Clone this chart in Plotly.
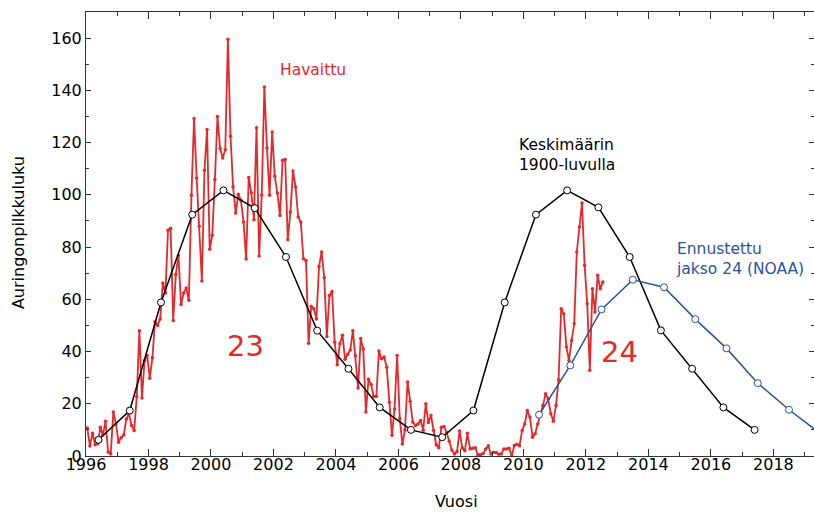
import plotly.graph_objects as go

obs_start_year = 1996
observed = [
    # 1996
    10.7, 3.8, 8.7, 4.3, 4.7, 11.0, 8.0, 13.3, 1.5, 0.8, 16.8, 12.3,
    # 1997
    5.3, 7.0, 8.0, 14.2, 16.2, 11.7, 9.8, 22.8, 48.0, 22.2, 36.6, 38.5,
    # 1998
    29.8, 37.6, 51.5, 50.0, 52.5, 66.2, 62.4, 86.4, 87.2, 51.9, 69.5, 76.8,
    # 1999
    58.0, 62.4, 64.3, 59.6, 99.8, 129.2, 106.4, 88.0, 67.0, 109.4, 125.0, 79.2,
    # 2000
    84.5, 105.9, 130.0, 117.7, 114.1, 117.3, 159.6, 122.4, 103.0, 93.0, 100.2, 97.9,
    # 2001
    89.6, 75.4, 106.6, 100.8, 90.5, 125.7, 76.6, 99.9, 141.3, 117.9, 99.8, 124.1,
    # 2002
    107.1, 100.7, 92.1, 113.2, 113.5, 82.8, 93.4, 109.1, 103.0, 91.5, 89.6, 75.5,
    # 2003
    74.9, 43.2, 57.3, 56.4, 52.5, 72.6, 78.1, 68.3, 45.8, 61.5, 63.0, 43.6,
    # 2004
    34.9, 43.0, 46.2, 37.0, 39.0, 40.6, 48.0, 38.4, 26.0, 45.0, 41.0, 16.8,
    # 2005
    29.4, 27.4, 22.8, 22.8, 40.2, 37.2, 37.9, 34.0, 20.6, 7.9, 18.0, 38.5,
    # 2006
    14.4, 4.6, 10.0, 28.3, 21.0, 13.0, 11.7, 12.3, 13.6, 9.9, 20.0, 12.8,
    # 2007
    15.5, 9.8, 4.3, 3.2, 11.0, 11.3, 9.0, 5.6, 2.3, 0.8, 1.6, 9.6,
    # 2008
    3.1, 2.0, 8.7, 2.7, 3.0, 3.2, 0.5, 0.5, 1.0, 2.7, 3.9, 0.8,
    # 2009
    1.4, 1.3, 0.7, 0.8, 2.7, 2.7, 3.0, 0.0, 4.0, 4.5, 3.9, 9.8,
    # 2010
    12.3, 17.4, 14.9, 7.2, 8.5, 12.3, 15.5, 19.3, 23.8, 21.9, 16.2, 13.3,
    # 2011
    19.3, 29.2, 56.4, 54.5, 41.7, 36.6, 44.2, 50.6, 78.1, 87.7, 96.9, 73.0,
    # 2012
    58.3, 32.8, 64.0, 55.1, 69.2, 64.0, 66.6,
]
obs_years = [obs_start_year + (i + 0.5) / 12 for i in range(len(observed))]

# Average 20th-century cycle (black)
avg_years = [1996.4, 1997.4, 1998.4, 1999.4, 2000.4, 2001.4, 2002.4, 2003.4,
             2004.4, 2005.4, 2006.4, 2007.4, 2008.4, 2009.4, 2010.4, 2011.4,
             2012.4, 2013.4, 2014.4, 2015.4, 2016.4, 2017.4]
avg_values = [6.2, 17.4, 58.8, 92.4, 101.7, 94.9, 76.2, 48.0, 33.4, 18.6, 10.0,
              7.2, 17.4, 58.8, 92.4, 101.7, 95.2, 76.2, 48.1, 33.4, 18.6, 10.0]

# NOAA predicted cycle 24 (blue)
pred_years = [2010.5, 2011.5, 2012.5, 2013.5, 2014.5, 2015.5, 2016.5, 2017.5,
              2018.5, 2019.5]
pred_values = [15.8, 34.7, 56.1, 67.5, 64.6, 52.4, 41.2, 27.9, 17.7, 8.6]

x_ticks = list(range(1996, 2020, 2))
y_ticks = list(range(0, 161, 20))

RED = "#e5282a"
BLUE = "#2d52a0"
FONT = "DejaVu Sans"

fig = go.Figure()

fig.add_trace(go.Scatter(
    x=obs_years, y=observed, mode="lines+markers",
    line=dict(color=RED, width=1.8),
    marker=dict(size=3.5, color=RED),
    showlegend=False,
))
fig.add_trace(go.Scatter(
    x=avg_years, y=avg_values, mode="lines+markers",
    line=dict(color="black", width=1.5),
    marker=dict(size=7, color="white", line=dict(color="black", width=1)),
    showlegend=False,
))
fig.add_trace(go.Scatter(
    x=pred_years, y=pred_values, mode="lines+markers",
    line=dict(color=BLUE, width=1.5),
    marker=dict(size=7, color="white", line=dict(color=BLUE, width=1)),
    showlegend=False,
))
# dummy trace for right-hand tick axis
fig.add_trace(go.Scatter(x=[None], y=[None], yaxis="y2", showlegend=False,
                         hoverinfo="skip"))

annots = [
    dict(x=2002.14, y=147.7, text="Havaittu", font=dict(color=RED, size=15.5),
         xanchor="left", yanchor="middle"),
    dict(x=2009.79, y=115.1, text="Keskimäärin<br>1900-luvulla",
         font=dict(color="black", size=15.5), xanchor="left", yanchor="middle",
         align="left"),
    dict(x=2014.82, y=75.5, text="Ennustettu<br>jakso 24 (NOAA)",
         font=dict(color=BLUE, size=15.5), xanchor="left", yanchor="middle",
         align="left"),
    dict(x=2001.10, y=42.0, text="23", font=dict(color=RED, size=29),
         xanchor="center", yanchor="middle"),
    dict(x=2013.09, y=40.0, text="24", font=dict(color=RED, size=29),
         xanchor="center", yanchor="middle"),
    dict(x=0.5096, y=-0.1036, xref="paper", yref="paper", text="Vuosi",
         font=dict(color="black", size=16), xanchor="center", yanchor="middle"),
    dict(x=-0.0934, y=0.502, xref="paper", yref="paper",
         text="Auringonpilkkuluku", textangle=-90,
         font=dict(color="black", size=16), xanchor="center", yanchor="middle"),
]
for a in annots:
    a.setdefault("showarrow", False)

fig.update_layout(
    width=814, height=517,
    margin=dict(l=86, r=0, t=12, b=61),
    paper_bgcolor="white", plot_bgcolor="white",
    font=dict(family=FONT, color="black", size=16),
    annotations=annots,
    xaxis=dict(
        range=[1996, 2019.3], tickvals=x_ticks, ticktext=[str(v) for v in x_ticks],
        ticks="inside", ticklen=7, tickwidth=1, tickcolor="#333",
        minor=dict(dtick=1, tick0=1996, ticks="inside", ticklen=4, tickcolor="#333"),
        showline=True, linecolor="#333", linewidth=1, mirror="ticks",
        showgrid=False, zeroline=False, ticklabelstandoff=-6,
        tickfont=dict(size=16, family=FONT),
    ),
    yaxis=dict(
        range=[0, 170], tickvals=y_ticks,
        ticks="inside", ticklen=5, tickwidth=1, tickcolor="#333",
        minor=dict(dtick=10, tick0=0, ticks="inside", ticklen=3, tickcolor="#333"),
        showline=True, linecolor="#333", linewidth=1,
        showgrid=False, zeroline=False,
        tickfont=dict(size=16, family=FONT),
    ),
    yaxis2=dict(
        range=[0, 170], tickvals=y_ticks, overlaying="y", side="right",
        ticks="inside", ticklen=5, tickwidth=1, tickcolor="#333",
        minor=dict(dtick=10, tick0=0, ticks="inside", ticklen=3, tickcolor="#333"),
        showline=False, showticklabels=False, showgrid=False, zeroline=False,
    ),
)

# Remove the default 8px page margin so the figure fills the window exactly.
fig.write_html(
    "out.html",
    config={"displayModeBar": False},
    post_script="document.body.style.margin='0';document.body.style.overflow='hidden';",
)
